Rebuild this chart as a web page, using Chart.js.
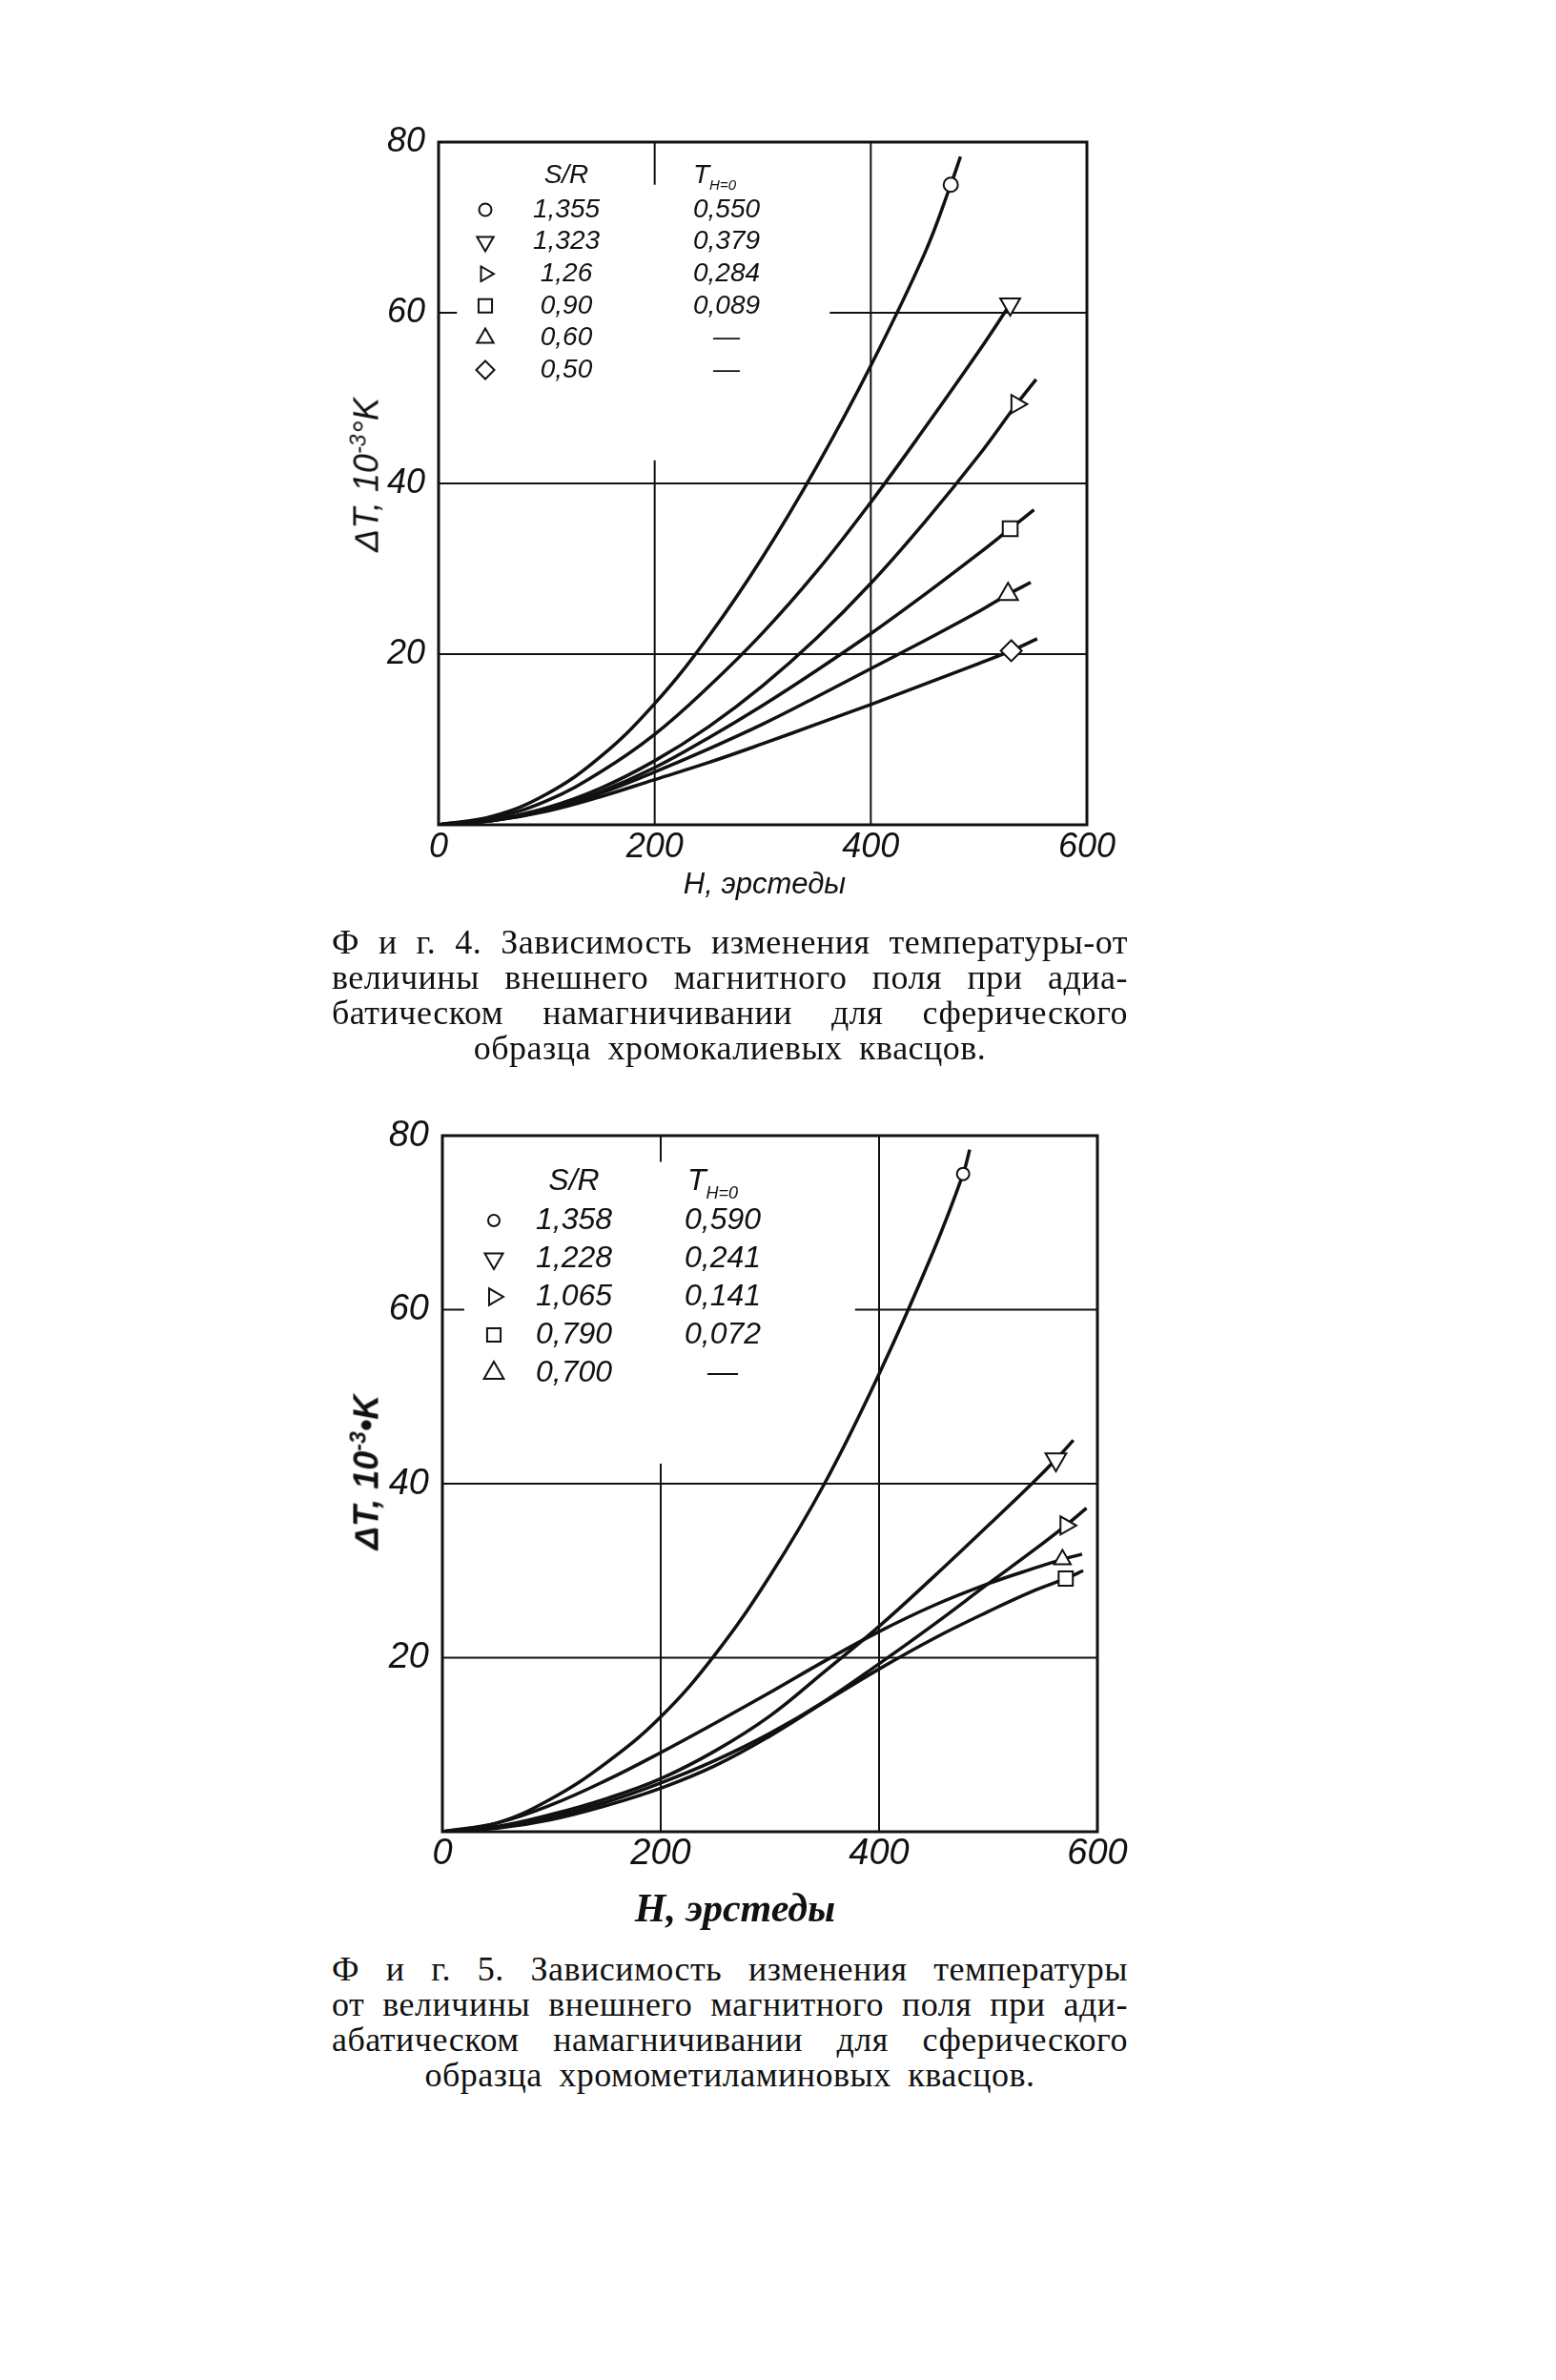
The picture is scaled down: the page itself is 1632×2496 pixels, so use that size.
<!DOCTYPE html>
<html>
<head>
<meta charset="utf-8">
<script src="https://cdn.jsdelivr.net/npm/chart.js@4.4.0/dist/chart.umd.min.js"></script>
<style>
  html, body { margin: 0; padding: 0; background: #fff; }
  #page { position: relative; width: 1632px; height: 2496px; background: #fff; overflow: hidden; color: #111; }
  .box { position: absolute; }
  .ytitle {
    position: absolute; white-space: nowrap;
    font: italic 36px "Liberation Sans", Arimo, sans-serif;
    transform: translate(-50%, -50%) rotate(-90deg);
  }
  .ytitle sup { font-size: 23px; }
  .xtitle { position: absolute; white-space: nowrap; transform: translate(-50%, -50%); }
  .caption { position: absolute; width: 835px; font: 36px "Liberation Serif", "Times New Roman", serif; letter-spacing: 0.5px; }
  .caption div { height: 37px; line-height: 37px; white-space: nowrap; }
  .caption div.last { text-align: center; word-spacing: 8px; }
</style>
</head>
<body>
<div id="page">
  <div class="box" style="left:300px; top:100px; width:900px; height:880px;"><canvas id="fig4"></canvas></div>
  <div class="box" style="left:300px; top:1140px; width:920px; height:880px;"><canvas id="fig5"></canvas></div>

  <div class="ytitle" style="left:384px; top:498px;">ΔT, 10<sup>-3</sup>°K</div>
  <div class="ytitle" style="left:384px; top:1544px; font-weight:bold;">ΔT, 10<sup>-3</sup>•K</div>

  <div class="xtitle" style="left:802px; top:927px; font: italic 31px 'Liberation Sans', Arimo, sans-serif;">H, эрстеды</div>
  <div class="xtitle" style="left:771px; top:2001px; font: italic bold 42px 'Liberation Serif', 'Times New Roman', serif;">H, эрстеды</div>

  <div class="caption" style="left:348px; top:970px;">
    <div class="just">Ф и г. 4. Зависимость изменения температуры-от</div>
    <div class="just">величины внешнего магнитного поля при адиа-</div>
    <div class="just">батическом намагничивании для сферического</div>
    <div class="last">образца хромокалиевых квасцов.</div>
  </div>
  <div class="caption" style="left:348px; top:2047px;">
    <div class="just">Ф и г. 5. Зависимость изменения температуры</div>
    <div class="just">от величины внешнего магнитного поля при ади-</div>
    <div class="just">абатическом намагничивании для сферического</div>
    <div class="last">образца хромометиламиновых квасцов.</div>
  </div>
</div>

<script>
// === Fig. 4: chrome potassium alum ===
const fig4SR = ["1,355", "1,323", "1,26", "0,90", "0,60", "0,50"];
const fig4T0 = ["0,550", "0,379", "0,284", "0,089", "—", "—"];
const fig4H_1 = [0, 50, 100, 150, 200, 250, 300, 350, 400, 450, 474, 483];
const fig4dT_1 = [0, 1.0, 3.6, 8.0, 14.2, 22.1, 31.4, 42.0, 53.8, 67.0, 75.0, 78.3];
const fig4H_2 = [0, 50, 100, 150, 200, 250, 300, 350, 400, 450, 500, 529];
const fig4dT_2 = [0, 0.8, 2.8, 6.2, 10.6, 16.2, 22.5, 29.7, 37.8, 46.5, 55.5, 61.0];
const fig4H_3 = [0, 50, 100, 150, 200, 250, 300, 350, 400, 450, 500, 535, 553];
const fig4dT_3 = [0, 0.6, 2.0, 4.3, 7.5, 11.5, 16.3, 21.9, 28.3, 35.5, 43.3, 49.3, 52.2];
const fig4H_4 = [0, 50, 100, 150, 200, 250, 300, 350, 400, 450, 500, 529, 551];
const fig4dT_4 = [0, 0.5, 1.8, 3.9, 6.7, 10.2, 14.0, 18.1, 22.4, 27.0, 31.8, 34.7, 36.9];
const fig4H_5 = [0, 50, 100, 150, 200, 250, 300, 350, 400, 450, 500, 527, 548];
const fig4dT_5 = [0, 0.5, 1.7, 3.7, 6.2, 8.9, 11.8, 15.0, 18.3, 21.6, 25.0, 27.0, 28.4];
const fig4H_6 = [0, 50, 100, 150, 200, 250, 300, 350, 400, 450, 500, 530, 554];
const fig4dT_6 = [0, 0.5, 1.6, 3.3, 5.3, 7.3, 9.5, 11.8, 14.1, 16.5, 18.9, 20.4, 21.8];
const fig4MarkH = [474, 529, 535, 529, 527, 530];

// === Fig. 5: chrome methylamine alum ===
const fig5SR = ["1,358", "1,228", "1,065", "0,790", "0,700"];
const fig5T0 = ["0,590", "0,241", "0,141", "0,072", "—"];
const fig5H_1 = [0, 50, 100, 150, 200, 250, 300, 350, 400, 450, 477, 483];
const fig5dT_1 = [0, 1.0, 3.8, 7.9, 13.2, 20.4, 29.4, 40.0, 52.6, 66.8, 75.6, 78.4];
const fig5H_2 = [0, 50, 100, 150, 200, 250, 300, 350, 400, 450, 500, 540, 562, 578];
const fig5dT_2 = [0, 0.6, 2.0, 3.8, 6.1, 9.3, 13.3, 18.4, 23.6, 29.3, 35.2, 40.0, 42.8, 45.0];
const fig5H_3 = [0, 50, 100, 150, 200, 250, 300, 350, 400, 450, 500, 540, 571, 590];
const fig5dT_3 = [0, 0.5, 1.7, 3.4, 5.6, 8.2, 11.3, 15.0, 19.3, 23.8, 28.5, 32.2, 35.2, 37.2];
const fig5H_4 = [0, 50, 100, 150, 200, 250, 300, 350, 400, 450, 500, 540, 571, 587];
const fig5dT_4 = [0, 0.4, 1.4, 3.0, 5.0, 7.6, 11.0, 14.9, 18.7, 22.2, 25.3, 27.6, 29.1, 30.0];
const fig5H_5 = [0, 50, 100, 150, 200, 250, 300, 350, 400, 450, 500, 540, 568, 586];
const fig5dT_5 = [0, 1.0, 3.1, 5.9, 9.1, 12.5, 16.0, 19.6, 23.0, 26.0, 28.5, 30.2, 31.3, 31.9];
const fig5MarkH = [477, 562, 571, 571, 568];

const xTicks = [0, 200, 400, 600];
const yTicks = [20, 40, 60, 80];

const FONT = '"Liberation Sans", Arimo, sans-serif';
const INK = '#111';

// marker shapes, in legend order
const shapes = [
  { pointStyle: 'circle', rotation: 0 },
  { pointStyle: 'triangle', rotation: 180 },
  { pointStyle: 'triangle', rotation: 90 },
  { pointStyle: 'rect', rotation: 0 },
  { pointStyle: 'triangle', rotation: 0 },
  { pointStyle: 'rectRot', rotation: 0 }
];

function series(hs, ts) {
  return hs.map((h, i) => ({ x: h, y: ts[i] }));
}

function makeDatasets(list, marks, radii) {
  return list.map((pts, i) => ({
    data: pts,
    borderColor: INK,
    borderWidth: 3.5,
    tension: 0.4,
    pointStyle: shapes[i].pointStyle,
    pointRotation: shapes[i].rotation,
    pointBackgroundColor: '#fff',
    pointBorderColor: INK,
    pointBorderWidth: 2,
    pointRadius: ctx => (ctx.raw && ctx.raw.x === marks[i]) ? radii[i] : 0,
    pointHoverRadius: 0
  }));
}

// partial grid as printed (in data units)
const gridPlugin = {
  id: 'printedGrid',
  beforeDatasetsDraw(chart, args, opts) {
    const { ctx, chartArea, scales } = chart;
    ctx.save();
    ctx.strokeStyle = INK;
    ctx.lineWidth = 2;
    opts.segments.forEach(s => {
      ctx.beginPath();
      ctx.moveTo(scales.x.getPixelForValue(s[0]), scales.y.getPixelForValue(s[1]));
      ctx.lineTo(scales.x.getPixelForValue(s[2]), scales.y.getPixelForValue(s[3]));
      ctx.stroke();
    });
    ctx.lineWidth = 3;
    ctx.strokeRect(chartArea.left, chartArea.top, chartArea.right - chartArea.left, chartArea.bottom - chartArea.top);
    ctx.restore();
  }
};

// table-like legend inside the plot
const tablePlugin = {
  id: 'tableLegend',
  afterDraw(chart, args, o) {
    const { ctx, chartArea } = chart;
    const x0 = chartArea.left, y0 = chartArea.top;
    ctx.save();
    ctx.textBaseline = 'middle';
    ctx.fillStyle = INK;
    ctx.font = `italic ${o.size}px ${FONT}`;
    ctx.textAlign = 'center';
    ctx.fillText('S/R', x0 + o.srX, y0 + o.headY);
    ctx.textAlign = 'left';
    ctx.fillText('T', x0 + o.tHeadX, y0 + o.headY);
    const tw = ctx.measureText('T').width;
    ctx.font = `italic ${Math.round(o.size * 0.55)}px ${FONT}`;
    ctx.fillText('H=0', x0 + o.tHeadX + tw, y0 + o.headY + o.size * 0.4);

    o.sr.forEach((txt, i) => {
      const y = y0 + o.rowY + i * o.rowGap;
      ctx.fillStyle = '#fff';
      ctx.strokeStyle = INK;
      ctx.lineWidth = 2;
      Chart.helpers.drawPoint(ctx, {
        pointStyle: shapes[i].pointStyle,
        rotation: shapes[i].rotation,
        radius: o.symR[i],
        borderWidth: 2
      }, x0 + o.symX, y);
      ctx.fillStyle = INK;
      ctx.font = `italic ${o.size}px ${FONT}`;
      ctx.textAlign = 'center';
      ctx.fillText(txt, x0 + o.srX, y);
      ctx.fillText(o.t0[i], x0 + o.tX, y);
    });
    ctx.restore();
  }
};

function buildChart(id, datasets, pad, tickSize, xPad, grid, legend) {
  return new Chart(document.getElementById(id), {
    type: 'line',
    data: { datasets },
    plugins: [gridPlugin, tablePlugin],
    options: {
      responsive: true,
      maintainAspectRatio: false,
      animation: false,
      layout: { padding: pad },
      plugins: {
        legend: { display: false },
        tooltip: { enabled: false },
        printedGrid: { segments: grid },
        tableLegend: legend
      },
      scales: {
        x: {
          type: 'linear', min: 0, max: 600,
          afterBuildTicks: s => { s.ticks = xTicks.map(v => ({ value: v })); },
          afterFit: s => { s.height = 60; },
          grid: { display: false, drawTicks: false },
          border: { display: false },
          ticks: { color: INK, padding: xPad, font: { family: FONT, size: tickSize, style: 'italic' }, maxRotation: 0 }
        },
        y: {
          type: 'linear', min: 0, max: 80,
          afterBuildTicks: s => { s.ticks = yTicks.map(v => ({ value: v })); },
          afterFit: s => { s.width = 100; },
          grid: { display: false, drawTicks: false },
          border: { display: false },
          ticks: { color: INK, padding: 14, font: { family: FONT, size: tickSize, style: 'italic' } }
        }
      }
    }
  });
}

// stretch caption lines to the full column width, like the printed page
function justifyCaptions() {
  document.querySelectorAll('.caption .just').forEach(line => {
    const text = line.textContent;
    const span = document.createElement('span');
    span.textContent = text;
    line.textContent = '';
    line.appendChild(span);
    const natural = span.getBoundingClientRect().width;
    const gaps = (text.match(/ /g) || []).length;
    line.style.wordSpacing = ((835 - natural) / gaps) + 'px';
  });
}

window.addEventListener('DOMContentLoaded', () => {
  justifyCaptions();

  const fig4Sets = makeDatasets([
    series(fig4H_1, fig4dT_1), series(fig4H_2, fig4dT_2), series(fig4H_3, fig4dT_3),
    series(fig4H_4, fig4dT_4), series(fig4H_5, fig4dT_5), series(fig4H_6, fig4dT_6)
  ], fig4MarkH, [7.5, 12, 11, 11, 12, 11]);

  buildChart('fig4', fig4Sets, { left: 60, right: 60, top: 49, bottom: 55 }, 36, 2, [
    [0, 20, 600, 20], [0, 40, 600, 40], [362, 60, 600, 60], [0, 60, 17, 60],
    [400, 0, 400, 80], [200, 0, 200, 42.7], [200, 75, 200, 80]
  ], {
    sr: fig4SR, t0: fig4T0, size: 28, headY: 35, srX: 134, tX: 302, tHeadX: 267,
    symX: 49, rowY: 71, rowGap: 33.6, symR: [6.5, 10, 9, 10, 10, 9.5]
  });

  const fig5Sets = makeDatasets([
    series(fig5H_1, fig5dT_1), series(fig5H_2, fig5dT_2), series(fig5H_3, fig5dT_3),
    series(fig5H_4, fig5dT_4), series(fig5H_5, fig5dT_5)
  ], fig5MarkH, [6.5, 12.5, 11, 10.5, 10]);

  buildChart('fig5', fig5Sets, { left: 64, right: 69, top: 51, bottom: 39 }, 38, 1, [
    [0, 20, 600, 20], [0, 40, 600, 40], [378, 60, 600, 60], [0, 60, 20, 60],
    [400, 0, 400, 80], [200, 0, 200, 42.3], [200, 77, 200, 80]
  ], {
    sr: fig5SR, t0: fig5T0, size: 32, headY: 48, srX: 138, tX: 294, tHeadX: 257,
    symX: 54, rowY: 89, rowGap: 40, symR: [6, 11, 10, 10, 12]
  });
});
</script>
</body>
</html>
